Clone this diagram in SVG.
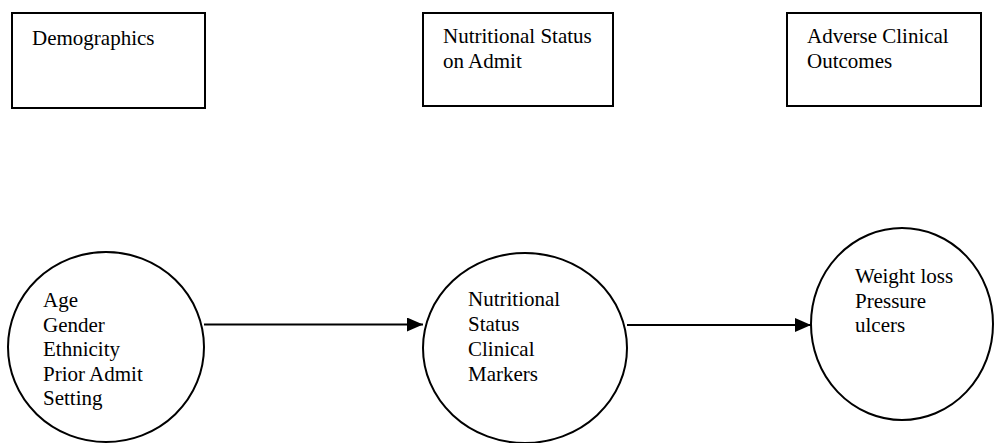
<svg xmlns="http://www.w3.org/2000/svg" width="994" height="443" viewBox="0 0 994 443">
<style>
.box{fill:#fff;stroke:#000;stroke-width:2}
.node{fill:#fff;stroke:#000;stroke-width:2}
.t{font-family:"Liberation Serif","Times New Roman",serif;font-size:21px;fill:#000}
.edge{stroke:#000;stroke-width:2;fill:none}
</style>
<defs>
<marker id="arr" markerWidth="16" markerHeight="14" refX="16" refY="7" orient="auto" markerUnits="userSpaceOnUse">
<path d="M0,0 L16,7 L0,14 Z" fill="#000"/>
</marker>
</defs>
<rect width="994" height="443" fill="#fff"/>
<g id="box-demographics">
<rect class="box" x="12" y="13" width="193" height="95"/>
<text class="t" x="32" y="45">Demographics</text>
</g>
<g id="box-nutritional">
<rect class="box" x="423" y="13" width="190" height="93"/>
<text class="t" x="443" y="43">Nutritional Status</text>
<text class="t" x="443" y="68">on Admit</text>
</g>
<g id="box-outcomes">
<rect class="box" x="787" y="13" width="194" height="93"/>
<text class="t" x="807" y="43">Adverse Clinical</text>
<text class="t" x="807" y="68">Outcomes</text>
</g>
<g id="node-demographics">
<ellipse class="node" cx="106" cy="347" rx="98" ry="95"/>
<text class="t" x="43" y="307">Age</text>
<text class="t" x="43" y="331.5">Gender</text>
<text class="t" x="43" y="356">Ethnicity</text>
<text class="t" x="43" y="380.5">Prior Admit</text>
<text class="t" x="43" y="405">Setting</text>
</g>
<g id="node-nutritional">
<ellipse class="node" cx="525" cy="348" rx="102" ry="95"/>
<text class="t" x="468" y="306">Nutritional</text>
<text class="t" x="468" y="331">Status</text>
<text class="t" x="468" y="356">Clinical</text>
<text class="t" x="468" y="380.5">Markers</text>
</g>
<g id="node-outcomes">
<ellipse class="node" cx="902" cy="324" rx="91" ry="96"/>
<text class="t" x="855" y="283">Weight loss</text>
<text class="t" x="855" y="307.5">Pressure</text>
<text class="t" x="855" y="332">ulcers</text>
</g>
<g id="connectors">
<line class="edge" x1="204" y1="324.5" x2="423" y2="324.5" marker-end="url(#arr)"/>
<line class="edge" x1="627" y1="325" x2="811" y2="325" marker-end="url(#arr)"/>
</g>
</svg>
